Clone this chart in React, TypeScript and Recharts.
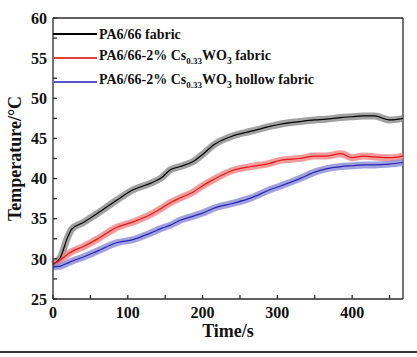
import { LineChart, Line, XAxis, YAxis, Legend, ReferenceLine, Label } from 'recharts';

// tempo (s) e temperaturas
const times = [0, 10, 20, 25, 40, 60, 85, 107, 130, 145, 157, 170, 187, 200, 215, 240, 265, 290, 305, 330, 350, 365, 385, 400, 415, 430, 450, 468];
const pa66 = [29.3, 30.2, 32.8, 33.7, 34.5, 35.7, 37.3, 38.6, 39.4, 40.1, 41.1, 41.5, 42.1, 43.0, 44.2, 45.3, 45.9, 46.5, 46.8, 47.1, 47.3, 47.4, 47.6, 47.7, 47.8, 47.8, 47.3, 47.5];
const csFabric = [29.3, 29.9, 30.6, 30.9, 31.5, 32.5, 33.9, 34.6, 35.5, 36.3, 37.0, 37.6, 38.3, 39.1, 39.9, 41.0, 41.5, 41.9, 42.3, 42.5, 42.8, 42.8, 43.1, 42.6, 42.8, 42.7, 42.6, 42.8];
const csHollow = [29.0, 29.1, 29.5, 29.7, 30.2, 31.0, 32.0, 32.4, 33.2, 33.8, 34.2, 34.8, 35.3, 35.7, 36.3, 36.9, 37.6, 38.6, 39.1, 40.0, 40.8, 41.2, 41.5, 41.6, 41.7, 41.7, 41.8, 42.0];

const xTicks = [0, 50, 100, 150, 200, 250, 300, 350, 400, 450];
const yTicks = [25, 27.5, 30, 32.5, 35, 37.5, 40, 42.5, 45, 47.5, 50, 52.5, 55, 57.5, 60];

const data = times.map((t, i) => ({ t, pa66: pa66[i], csFabric: csFabric[i], csHollow: csHollow[i] }));

const FONT = '"Liberation Serif", "Times New Roman", serif';
const AXIS = '#2b2b2b';

const series = [
  { key: 'pa66', band: '#8a8a8a', line: '#000000', legend: '#000000' },
  { key: 'csFabric', band: '#f28282', line: '#e01818', legend: '#e34040' },
  { key: 'csHollow', band: '#8a8ad8', line: '#2626b0', legend: '#5555c8' },
];

const Cs = () => (
  <>
    Cs<sub style={{ fontSize: 9 }}>0.33</sub>WO<sub style={{ fontSize: 9.5 }}>3</sub>
  </>
);

const legendLabels = [
  <>PA6/66 fabric</>,
  <>PA6/66-2% <Cs /> fabric</>,
  <>PA6/66-2% <Cs /> hollow fabric</>,
];

const renderLegend = () => (
  <div style={{ fontFamily: FONT, fontWeight: 'bold', fontSize: 14, color: '#111' }}>
    {series.map((s, i) => (
      <div key={s.key} style={{ display: 'flex', alignItems: 'center', height: 24, whiteSpace: 'nowrap' }}>
        <span style={{ display: 'inline-block', width: 44, height: 1.5, background: s.legend, marginRight: 2 }} />
        <span style={{ lineHeight: '15px' }}>{legendLabels[i]}</span>
      </div>
    ))}
  </div>
);

const App = () => {
  const tickStyle = { fontFamily: FONT, fontWeight: 'bold', fontSize: 16, fill: '#111' };
  return (
    <div style={{ position: 'absolute', left: 0, top: 0, width: 417, height: 357, background: '#fff' }}>
      <LineChart width={417} height={357} data={data} margin={{ top: 18, right: 14, left: 0, bottom: 18 }}>
        <XAxis
          dataKey="t"
          type="number"
          domain={[0, 468]}
          ticks={xTicks}
          tickFormatter={(v) => (v % 100 === 0 ? String(v) : '')}
          tickSize={-4}
          tickMargin={12}
          height={40}
          stroke={AXIS}
          strokeWidth={1.3}
          fontSize={16}
          tick={tickStyle}
          interval={0}
        >
          <Label
            value="Time/s"
            position="insideBottom"
            offset={2}
            style={{ fontFamily: FONT, fontWeight: 'bold', fontSize: 18, fill: '#111' }}
          />
        </XAxis>
        <YAxis
          type="number"
          domain={[25, 60]}
          ticks={yTicks}
          tickFormatter={(v) => (v % 5 === 0 ? String(v) : '')}
          tickSize={-4}
          tickMargin={10}
          width={53}
          stroke={AXIS}
          strokeWidth={1.3}
          fontSize={16}
          tick={tickStyle}
          interval={0}
        >
          <Label
            value="Temperature/°C"
            angle={-90}
            position="insideLeft"
            offset={15}
            style={{ fontFamily: FONT, fontWeight: 'bold', fontSize: 18, fill: '#111', textAnchor: 'middle' }}
          />
        </YAxis>
        <ReferenceLine y={60} stroke={AXIS} strokeWidth={1.3} />
        <ReferenceLine x={468} stroke={AXIS} strokeWidth={1.3} />
        {series.map((s) => (
          <Line
            key={s.key + '-band'}
            dataKey={s.key}
            type="monotone"
            stroke={s.band}
            strokeWidth={7}
            strokeOpacity={0.8}
            dot={false}
            legendType="none"
            isAnimationActive={false}
          />
        ))}
        {series.map((s) => (
          <Line
            key={s.key}
            dataKey={s.key}
            type="monotone"
            stroke={s.line}
            strokeWidth={1.2}
            dot={false}
            isAnimationActive={false}
          />
        ))}
        <Legend
          layout="vertical"
          align="center"
          verticalAlign="middle"
          content={renderLegend}
          wrapperStyle={{ top: 22, left: 53, bottom: 'auto', right: 'auto', width: 340 }}
        />
      </LineChart>
      <div style={{ position: 'absolute', left: 0, top: 351, width: 417, height: 2, background: '#333' }} />
    </div>
  );
};

export default App;
